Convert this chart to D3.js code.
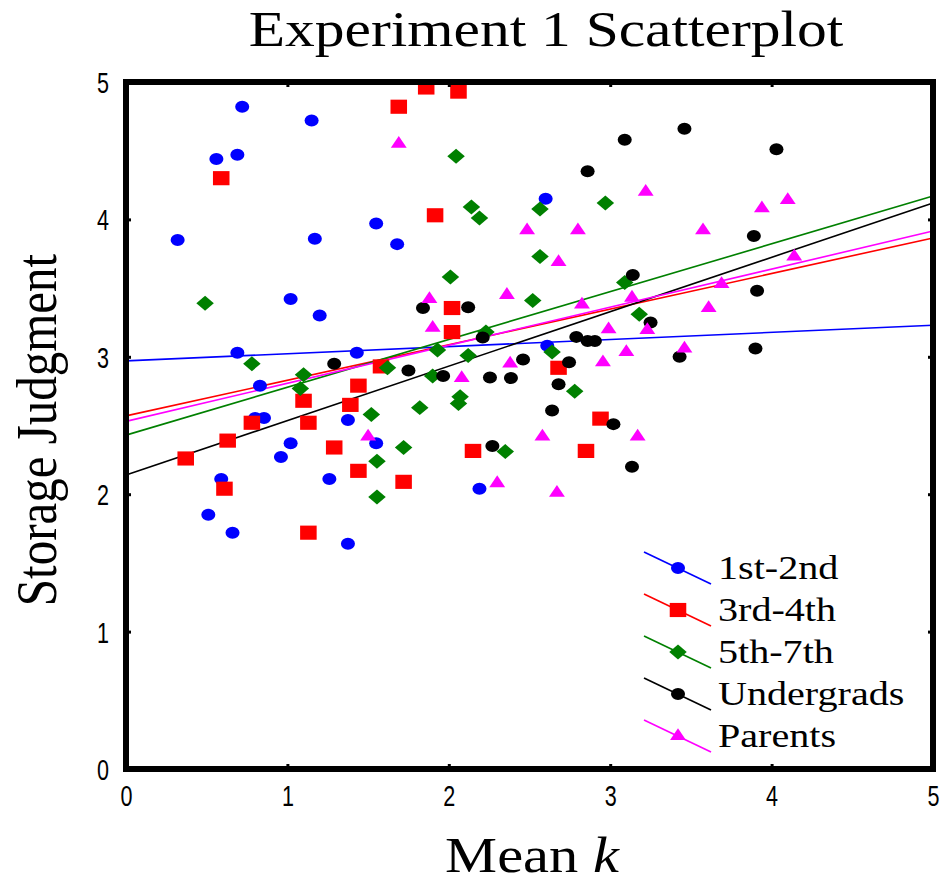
<!DOCTYPE html>
<html>
<head>
<meta charset="utf-8">
<script src="https://cdn.jsdelivr.net/npm/d3@7"></script>
<style>
  html, body { margin: 0; padding: 0; background: #fff; }
  svg { display: block; }
</style>
</head>
<body>
<svg id="chart" width="947" height="885"></svg>
<script>
// ---- data ----
const seriesNames = ["1st-2nd", "3rd-4th", "5th-7th", "Undergrads", "Parents"];
const seriesColors = ["#0000ff", "#ff0000", "#008000", "#000000", "#ff00ff"];
const seriesShapes = ["circle", "square", "diamond", "circle", "triangle"];

const grade12 = [
  [0.32,3.85],[0.56,4.44],[0.69,4.47],[0.72,4.82],[1.15,4.72],[1.17,3.86],[1.55,3.97],
  [1.68,3.82],[1.02,3.42],[1.20,3.30],[0.69,3.03],[1.43,3.03],[0.83,2.79],[0.80,2.555],
  [0.855,2.555],[1.375,2.54],[1.02,2.37],[0.96,2.27],[1.55,2.37],[1.26,2.11],[0.59,2.11],
  [0.51,1.85],[0.66,1.72],[1.375,1.64],[2.60,4.15],[2.61,3.08],[2.19,2.04]
];
const grade34 = [
  [1.86,4.96],[2.06,4.93],[1.69,4.82],[0.59,4.30],[1.915,4.03],[2.02,3.355],[2.02,3.18],
  [1.58,2.93],[1.44,2.79],[1.10,2.68],[1.39,2.65],[0.78,2.52],[1.13,2.52],[0.63,2.39],
  [1.29,2.34],[0.37,2.26],[1.44,2.17],[0.61,2.04],[1.72,2.09],[1.13,1.72],[2.68,2.92],
  [2.15,2.315],[2.85,2.315],[2.94,2.55]
];
const grade57 = [
  [0.49,3.39],[0.78,2.95],[1.62,2.92],[1.10,2.87],[1.08,2.77],[1.82,2.63],[1.52,2.58],
  [1.72,2.34],[1.555,2.24],[1.555,1.98],[2.045,4.46],[2.97,4.12],[2.14,4.09],[2.19,4.01],
  [2.565,4.075],[2.565,3.73],[2.01,3.58],[3.09,3.54],[2.52,3.41],[3.18,3.31],[2.23,3.18],
  [2.64,3.035],[1.93,3.05],[2.12,3.01],[1.90,2.86],[2.78,2.75],[2.07,2.71],[2.06,2.66],
  [2.35,2.31]
];
const undergrads = [
  [3.46,4.66],[4.03,4.51],[3.09,4.58],[2.86,4.35],[3.89,3.88],[3.91,3.48],[3.14,3.595],
  [1.84,3.355],[2.12,3.36],[3.25,3.25],[2.21,3.14],[2.79,3.145],[2.86,3.115],[2.905,3.115],
  [3.43,3.00],[3.90,3.06],[1.29,2.95],[1.75,2.90],[2.46,2.98],[2.745,2.96],[1.965,2.86],
  [2.255,2.85],[2.385,2.845],[2.68,2.80],[2.64,2.61],[3.02,2.51],[2.27,2.35],[3.135,2.20]
];
const parents = [
  [1.69,4.55],[3.22,4.20],[2.485,3.92],[2.80,3.92],[2.68,3.69],[2.36,3.45],[1.88,3.42],
  [2.825,3.38],[3.135,3.43],[1.90,3.21],[2.99,3.20],[3.23,3.195],[3.10,3.035],[2.38,2.95],
  [2.955,2.96],[2.08,2.845],[2.58,2.42],[3.17,2.42],[2.30,2.08],[2.67,2.01],[1.50,2.42],
  [4.10,4.14],[3.94,4.08],[3.575,3.92],[4.14,3.73],[3.69,3.53],[3.61,3.355],[3.46,3.06]
];
const seriesData = [grade12, grade34, grade57, undergrads, parents];

// fitted regression lines (intercept, slope)
const fitIntercepts = [2.97, 2.57, 2.43, 2.14, 2.53];
const fitSlopes = [0.052, 0.259, 0.348, 0.396, 0.277];

const xTicks = [0, 1, 2, 3, 4, 5];
const yTicks = [0, 1, 2, 3, 4, 5];
const titleText = "Experiment 1 Scatterplot";
const yLabelText = "Storage Judgment";

// ---- layout ----
const svg = d3.select("#chart");
const L = 126, R = 933, T = 82, B = 769;
const x = d3.scaleLinear().domain([0, 5]).range([L, R]);
const y = d3.scaleLinear().domain([0, 5]).range([B, T]);
const SX = 1.17; // horizontal stretch seen in the reference

// regression lines
const lineG = svg.append("g");
seriesNames.forEach((n, i) => {
  lineG.append("line")
    .attr("x1", x(0)).attr("y1", y(fitIntercepts[i]))
    .attr("x2", x(5)).attr("y2", y(fitIntercepts[i] + 5 * fitSlopes[i]))
    .attr("stroke", seriesColors[i]).attr("stroke-width", 1.6);
});

function markerPath(shape) {
  if (shape === "circle") return d3.symbol(d3.symbolCircle, Math.PI * 36)();
  if (shape === "square") return d3.symbol(d3.symbolSquare, 200)();
  if (shape === "diamond") return d3.symbol(d3.symbolSquare, 112)();
  return d3.symbol(d3.symbolTriangle, 80)();
}
function markerTransform(shape, px, py) {
  let t = `translate(${px},${py}) scale(${SX},1)`;
  if (shape === "diamond") t += " rotate(45)";
  return t;
}

// markers
seriesData.forEach((data, i) => {
  const shape = seriesShapes[i];
  svg.append("g").selectAll("path").data(data).join("path")
    .attr("d", markerPath(shape))
    .attr("transform", d => markerTransform(shape, x(d[0]), y(d[1])))
    .attr("fill", seriesColors[i]);
});

// axes
const tickFont = "'Liberation Sans', Arial, sans-serif";
const xAxis = svg.append("g").attr("transform", `translate(0,${B})`)
  .call(d3.axisBottom(x).tickValues(xTicks).tickFormat(d3.format("d")).tickSize(-5).tickPadding(16));
const yAxis = svg.append("g").attr("transform", `translate(${L},0)`)
  .call(d3.axisLeft(y).tickValues(yTicks).tickFormat(d3.format("d")).tickSize(-5).tickPadding(17));
const xTop = svg.append("g").attr("transform", `translate(0,${T})`)
  .call(d3.axisTop(x).tickValues(xTicks.slice(1, -1)).tickSize(-5).tickFormat(""));
const yRight = svg.append("g").attr("transform", `translate(${R},0)`)
  .call(d3.axisRight(y).tickValues(yTicks.slice(1, -1)).tickSize(-5).tickFormat(""));
[xAxis, yAxis, xTop, yRight].forEach(g => {
  g.select(".domain").remove();
  g.selectAll(".tick line").attr("stroke", "#000").attr("stroke-width", 3);
  g.selectAll("text").attr("font-family", tickFont).attr("font-size", 29).attr("fill", "#000")
    .attr("textLength", 12).attr("lengthAdjust", "spacingAndGlyphs");
});
yAxis.selectAll("text").attr("dy", "0.36em");

// frame
svg.append("rect").attr("x", L).attr("y", T).attr("width", R - L).attr("height", B - T)
  .attr("fill", "none").attr("stroke", "#000").attr("stroke-width", 6);

const serif = "'Liberation Serif', 'Times New Roman', serif";

// title
svg.append("text")
  .attr("transform", `translate(546,46) scale(1.19,1)`)
  .attr("text-anchor", "middle").attr("font-family", serif).attr("font-size", 50)
  .attr("fill", "#000").text(titleText);

// x label
const xl = svg.append("text")
  .attr("transform", `translate(532,872) scale(${SX},1)`)
  .attr("text-anchor", "middle").attr("font-family", serif).attr("font-size", 50).attr("fill", "#000");
xl.append("tspan").text("Mean ");
xl.append("tspan").attr("font-style", "italic").text("k");

// y label
svg.append("text")
  .attr("transform", `translate(56,430) scale(${SX},1) rotate(-90)`)
  .attr("text-anchor", "middle").attr("font-family", serif).attr("font-size", 49)
  .attr("fill", "#000").text(yLabelText);

// legend
const legRow = 42;
const leg = svg.append("g");
seriesNames.forEach((n, i) => {
  const y0 = 552 + i * legRow;
  const g = leg.append("g");
  g.append("line").attr("x1", 644).attr("y1", y0).attr("x2", 711).attr("y2", y0 + 32)
    .attr("stroke", seriesColors[i]).attr("stroke-width", 1.6);
  g.append("path").attr("d", markerPath(seriesShapes[i]))
    .attr("transform", markerTransform(seriesShapes[i], 678, y0 + 16))
    .attr("fill", seriesColors[i]);
  g.append("text")
    .attr("transform", `translate(718,${579 + i * legRow}) scale(1.18,1)`)
    .attr("font-family", serif).attr("font-size", 34).attr("fill", "#000").text(n);
});
</script>
</body>
</html>
